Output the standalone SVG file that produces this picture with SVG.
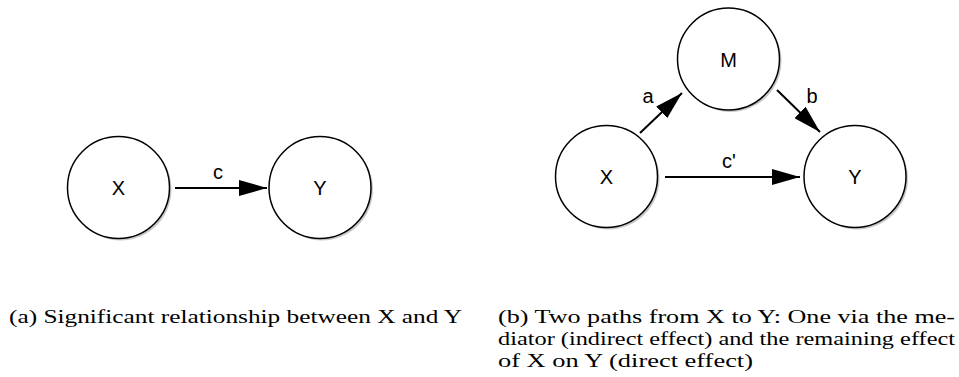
<svg xmlns="http://www.w3.org/2000/svg" width="959" height="377" viewBox="0 0 959 377">
<defs>
<style>
.node circle.sh{fill:#c8c8c8;stroke:none}
.node circle.c{fill:#fff;stroke:#000;stroke-width:1.5}
.lbl{font-family:"Liberation Sans",Arial,sans-serif;font-size:20px;fill:#000;text-anchor:middle}
.edge{stroke:#000;stroke-width:2;fill:none}
.cap{font-family:"Liberation Serif","Times New Roman",serif;font-size:18.5px;fill:#000}
</style>
<marker id="ah" viewBox="0 0 28 16" refX="28" refY="8" markerWidth="28" markerHeight="16" markerUnits="userSpaceOnUse" orient="auto">
<path d="M0,0 L28,8 L0,16 Z" fill="#000"/>
</marker>
</defs>
<rect width="959" height="377" fill="#fff"/>
<g id="a-X" class="node"><circle class="sh" cx="120.5" cy="189.5" r="51"/><circle class="c" cx="118.5" cy="187.5" r="51"/><text class="lbl" x="118.5" y="195">X</text></g>
<g id="a-Y" class="node"><circle class="sh" cx="322" cy="189.5" r="51"/><circle class="c" cx="320" cy="187.5" r="51"/><text class="lbl" x="320" y="195">Y</text></g>
<g id="b-X" class="node"><circle class="sh" cx="608.5" cy="178.5" r="51"/><circle class="c" cx="606.5" cy="176.5" r="51"/><text class="lbl" x="606.5" y="184">X</text></g>
<g id="b-M" class="node"><circle class="sh" cx="730.5" cy="61" r="51"/><circle class="c" cx="728.5" cy="59" r="51"/><text class="lbl" x="728.5" y="66.5">M</text></g>
<g id="b-Y" class="node"><circle class="sh" cx="857" cy="178.5" r="51"/><circle class="c" cx="855" cy="176.5" r="51"/><text class="lbl" x="855" y="184">Y</text></g>
<g id="connectors">
<line class="edge" x1="175" y1="188" x2="267" y2="188" marker-end="url(#ah)"/>
<line class="edge" x1="665" y1="177" x2="800" y2="177" marker-end="url(#ah)"/>
<line class="edge" x1="640" y1="133" x2="682" y2="93" marker-end="url(#ah)"/>
<line class="edge" x1="777" y1="90" x2="820" y2="132" marker-end="url(#ah)"/>
<text class="lbl" x="218" y="179">c</text>
<text class="lbl" x="729" y="168">c'</text>
<text class="lbl" x="648" y="103">a</text>
<text class="lbl" x="812" y="103">b</text>
</g>
<text class="cap" x="9" y="323" textLength="453" lengthAdjust="spacingAndGlyphs">(a) Significant relationship between X and Y</text>
<text class="cap" x="498" y="323" textLength="457" lengthAdjust="spacingAndGlyphs">(b) Two paths from X to Y: One via the me-</text>
<text class="cap" x="498" y="345" textLength="457" lengthAdjust="spacingAndGlyphs">diator (indirect effect) and the remaining effect</text>
<text class="cap" x="498" y="367" textLength="255" lengthAdjust="spacingAndGlyphs">of X on Y (direct effect)</text>
</svg>
